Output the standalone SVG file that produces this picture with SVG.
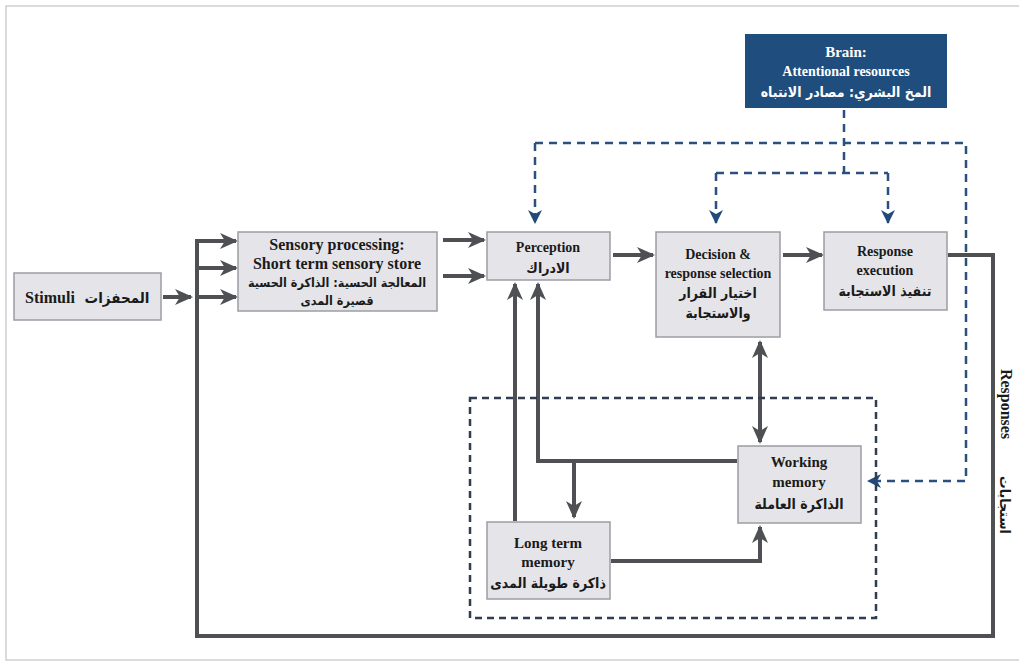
<svg xmlns="http://www.w3.org/2000/svg" width="1019" height="662" viewBox="0 0 1019 662">
<style>
.box{fill:#e5e5e9;stroke:#9c9ca4;stroke-width:1.5}
.en{font-family:"Liberation Serif","Times New Roman",serif;font-weight:bold;fill:#1a1a1a;text-anchor:middle}
.ar{font-family:"DejaVu Sans Condensed","DejaVu Sans",sans-serif;font-weight:bold;fill:#1a1a1a;text-anchor:middle}
.conn{fill:none;stroke:#4e5054;stroke-width:4}
.dash{fill:none;stroke:#2b4f7e;stroke-width:2.5;stroke-dasharray:8 6}
</style>
<defs>
<marker id="ah" markerUnits="userSpaceOnUse" markerWidth="18" markerHeight="16" viewBox="0 0 18 16" refX="16" refY="8" orient="auto-start-reverse">
<path d="M0,0 L18,8 L0,16 L5,8 z" fill="#4e5054"/>
</marker>
<marker id="bh" markerUnits="userSpaceOnUse" markerWidth="14" markerHeight="14" viewBox="0 0 14 14" refX="13" refY="7" orient="auto">
<path d="M0,0 L14,7 L0,14 L4,7 z" fill="#21497a"/>
</marker>
</defs>
<rect x="0" y="0" width="1019" height="662" fill="#ffffff"/>
<rect x="6" y="6" width="1030" height="654" fill="none" stroke="#d0d0d0" stroke-width="1.5"/>

<g id="connectors">
<path class="conn" d="M163,297 H191" marker-end="url(#ah)"/>
<path class="conn" d="M948,255 H993 V636 H197 V241 H236" marker-end="url(#ah)"/>
<path class="conn" d="M197,268 H236" marker-end="url(#ah)"/>
<path class="conn" d="M197,297 H236" marker-end="url(#ah)"/>
<path class="conn" d="M443,240 H484" marker-end="url(#ah)"/>
<path class="conn" d="M443,276 H484" marker-end="url(#ah)"/>
<path class="conn" d="M613,255 H653" marker-end="url(#ah)"/>
<path class="conn" d="M783,255 H822" marker-end="url(#ah)"/>
<path class="conn" d="M515,521 V284" marker-end="url(#ah)"/>
<path class="conn" d="M737,461 H538 V284" marker-end="url(#ah)"/>
<path class="conn" d="M574,461 V517" marker-end="url(#ah)"/>
<path class="conn" d="M611,561 H760 V527" marker-end="url(#ah)"/>
<path class="conn" d="M760,342 V442" marker-start="url(#ah)" marker-end="url(#ah)"/>
<path class="dash" d="M844,110 V173"/>
<path class="dash" d="M535,143 H966 V481 H868" marker-end="url(#bh)"/>
<path class="dash" d="M535,143 V223" marker-end="url(#bh)"/>
<path class="dash" d="M716,173 H888"/>
<path class="dash" d="M716,173 V223" marker-end="url(#bh)"/>
<path class="dash" d="M888,173 V223" marker-end="url(#bh)"/>
</g>

<g id="wm-region">
<rect x="470" y="398" width="406" height="220" fill="none" stroke="#2f3d52" stroke-width="2.5" stroke-dasharray="7 5"/>
</g>

<g id="brain">
<rect x="745" y="34" width="202" height="74" fill="#1f4d7d"/>
<text class="en" x="846" y="57" font-size="15" style="fill:#ffffff">Brain:</text>
<text class="en" x="846" y="76" font-size="14" style="fill:#ffffff">Attentional resources</text>
<text class="ar" x="846" y="97" font-size="14" style="fill:#ffffff">المخ البشري: مصادر الانتباه</text>
</g>

<g id="stimuli">
<rect class="box" x="14" y="273" width="147" height="47"/>
<text class="en" x="50" y="303" font-size="16">Stimuli</text>
<text class="ar" x="117" y="303" font-size="15">المحفزات</text>
</g>

<g id="sensory">
<rect class="box" x="238" y="232" width="199" height="79"/>
<text class="en" x="337" y="250" font-size="16">Sensory processing:</text>
<text class="en" x="337" y="269" font-size="16">Short term sensory store</text>
<text class="ar" x="337" y="287" font-size="12.5">المعالجة الحسية: الذاكرة الحسية</text>
<text class="ar" x="337" y="305" font-size="12.5">قصيرة المدى</text>
</g>

<g id="perception">
<rect class="box" x="487" y="232" width="123" height="48"/>
<text class="en" x="548" y="252" font-size="14">Perception</text>
<text class="ar" x="548" y="273" font-size="14">الادراك</text>
</g>

<g id="decision">
<rect class="box" x="656" y="232" width="124" height="105"/>
<text class="en" x="718" y="259" font-size="14">Decision &amp;</text>
<text class="en" x="718" y="278" font-size="14">response selection</text>
<text class="ar" x="718" y="298" font-size="14">اختيار القرار</text>
<text class="ar" x="718" y="318" font-size="14">والاستجابة</text>
</g>

<g id="response">
<rect class="box" x="824" y="232" width="123" height="78"/>
<text class="en" x="885" y="256" font-size="14">Response</text>
<text class="en" x="885" y="275" font-size="14">execution</text>
<text class="ar" x="885" y="296" font-size="14">تنفيذ الاستجابة</text>
</g>

<g id="working-memory">
<rect class="box" x="738" y="446" width="123" height="77"/>
<text class="en" x="799" y="467" font-size="15">Working</text>
<text class="en" x="799" y="487" font-size="15">memory</text>
<text class="ar" x="799" y="509" font-size="14">الذاكرة العاملة</text>
</g>

<g id="long-term-memory">
<rect class="box" x="487" y="522" width="123" height="77"/>
<text class="en" x="548" y="548" font-size="15">Long term</text>
<text class="en" x="548" y="567" font-size="15">memory</text>
<text class="ar" x="548" y="588" font-size="14">ذاكرة طويلة المدى</text>
</g>

<g id="responses-label">
<text class="en" font-size="16" transform="translate(1001,404) rotate(90)">Responses</text>
<text class="ar" font-size="14" transform="translate(1000,505) rotate(90)">استجابات</text>
</g>
</svg>
